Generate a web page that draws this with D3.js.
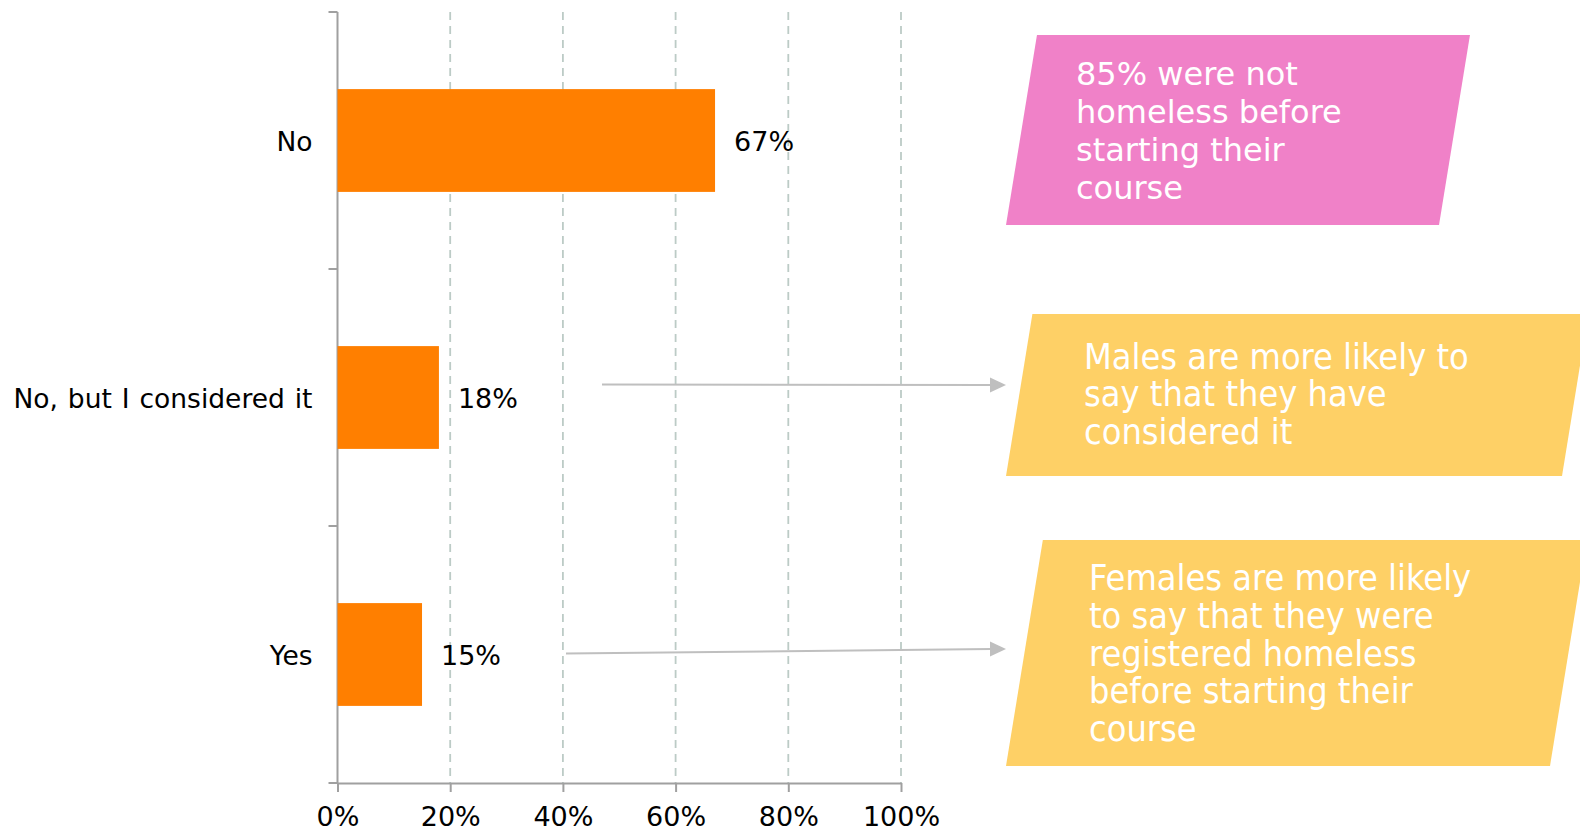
<!DOCTYPE html>
<html>
<head>
<meta charset="utf-8">
<script src="https://cdn.jsdelivr.net/npm/d3@7"></script>
<style>
  body { margin: 0; background: #fff; }
  svg { display: block; font-family: "DejaVu Sans", Verdana, sans-serif; }
</style>
</head>
<body>
<div id="chart"></div>
<script>
// chart data
const categories = ["No", "No, but I considered it", "Yes"];
const values = [67, 18, 15];
const xTicks = [0, 20, 40, 60, 80, 100];

// annotation boxes (text lines) and which category each one points at
const noteLines = [
    ["85% were not", "homeless before", "starting their", "course"],
    ["Males are more likely to", "say that they have", "considered it"],
    ["Females are more likely", "to say that they were", "registered homeless", "before starting their", "course"]
];
const noteColors = ["#f081c8", "#fed066", "#fed066"];
const noteTargets = [null, "No, but I considered it", "Yes"];

const width = 1580, height = 833;
const plotLeft = 337.5, plotRight = 901, plotTop = 12, plotBottom = 783;

const svg = d3.select("#chart").append("svg")
    .attr("width", width)
    .attr("height", height);

// scales
const x = d3.scaleLinear().domain([0, 100]).range([plotLeft, plotRight]);
const y = d3.scaleBand()
    .domain(categories)
    .range([plotTop, plotBottom])
    .paddingInner(0.6)
    .paddingOuter(0.3);

// dashed vertical gridlines
svg.append("g")
    .selectAll("line")
    .data(xTicks.slice(1))
    .enter().append("line")
    .attr("x1", d => x(d)).attr("x2", d => x(d))
    .attr("y1", plotTop).attr("y2", plotBottom)
    .style("stroke", "#bccbc6")
    .style("stroke-width", 1.8)
    .style("stroke-dasharray", "8,6");

// x axis
const xAxis = svg.append("g")
    .attr("transform", "translate(0," + plotBottom + ")")
    .call(d3.axisBottom(x).tickValues(xTicks).tickSize(9).tickSizeOuter(0).tickPadding(15)
        .tickFormat(d => d + "%"));
xAxis.select(".domain").style("stroke", "#a0a0a0").style("stroke-width", 2);
xAxis.selectAll(".tick line").style("stroke", "#a0a0a0").style("stroke-width", 2);
xAxis.selectAll(".tick text")
    .style("font-size", "27px")
    .style("font-family", "DejaVu Sans, Verdana, sans-serif")
    .style("fill", "#000");

// y axis: vertical line with ticks between categories
const step = y.step();
const boundaries = d3.range(categories.length + 1).map(i => plotTop + i * step);
svg.append("line")
    .attr("x1", plotLeft).attr("x2", plotLeft)
    .attr("y1", plotTop).attr("y2", plotBottom + 1)
    .style("stroke", "#a0a0a0")
    .style("stroke-width", 2);
svg.append("g")
    .selectAll("line")
    .data(boundaries)
    .enter().append("line")
    .attr("x1", plotLeft - 9).attr("x2", plotLeft)
    .attr("y1", d => d).attr("y2", d => d)
    .style("stroke", "#a0a0a0")
    .style("stroke-width", 2);

// category labels
svg.append("g")
    .selectAll("text")
    .data(categories)
    .enter().append("text")
    .attr("x", plotLeft - 25)
    .attr("y", d => y(d) + y.bandwidth() / 2)
    .attr("dy", "0.4em")
    .attr("text-anchor", "end")
    .style("font-size", "26.5px")
    .style("word-spacing", "1.5px")
    .style("fill", "#000")
    .text(d => d);

// bars
svg.append("g")
    .selectAll("rect")
    .data(categories)
    .enter().append("rect")
    .attr("x", x(0))
    .attr("y", d => y(d))
    .attr("width", (d, i) => x(values[i]) - x(0))
    .attr("height", y.bandwidth())
    .style("fill", "#ff7f00");

// value labels
svg.append("g")
    .selectAll("text")
    .data(categories)
    .enter().append("text")
    .attr("x", (d, i) => x(values[i]) + 19)
    .attr("y", d => y(d) + y.bandwidth() / 2)
    .attr("dy", "0.4em")
    .style("font-size", "27px")
    .style("fill", "#000")
    .text((d, i) => values[i] + "%");

// annotation boxes (slanted parallelograms)
const boxes = [
    { y0: 35, y1: 225, x0: 1006, x1: 1439, textX: 1076, baseline: 85, size: 32, lh: 38, font: "DejaVu Sans" },
    { y0: 314, y1: 476, x0: 1006, x1: 1562, textX: 1084, baseline: 369, size: 35.8, lh: 37.3, font: "DejaVu Sans Condensed" },
    { y0: 540, y1: 766, x0: 1006, x1: 1550, textX: 1089, baseline: 590, size: 35.8, lh: 37.8, font: "DejaVu Sans Condensed" }
];
const slant = 0.163;

boxes.forEach((b, i) => {
    const dx = (b.y1 - b.y0) * slant;
    const pts = [[b.x0 + dx, b.y0], [b.x1 + dx, b.y0], [b.x1, b.y1], [b.x0, b.y1]];
    svg.append("polygon")
        .attr("points", pts.map(p => p.join(",")).join(" "))
        .style("fill", noteColors[i]);

    const t = svg.append("text")
        .attr("x", b.textX)
        .attr("y", b.baseline)
        .style("font-family", b.font + ", sans-serif")
        .style("font-size", b.size + "px")
        .style("fill", "#fff");
    t.selectAll("tspan")
        .data(noteLines[i])
        .enter().append("tspan")
        .attr("x", b.textX)
        .attr("y", (d, j) => b.baseline + j * b.lh)
        .text(d => d);
});

// arrows from the bars to the notes
const arrowStarts = [null, 602, 566];
const arrowOffsets = [null, -13, -1];
const arrowEndY = [null, 385, 649];
noteTargets.forEach((cat, i) => {
    if (!cat) return;
    const y0 = y(cat) + y.bandwidth() / 2 + arrowOffsets[i];
    const x0 = arrowStarts[i], x1 = 991, y1 = arrowEndY[i];
    svg.append("line")
        .attr("x1", x0).attr("y1", y0)
        .attr("x2", x1).attr("y2", y1)
        .style("stroke", "#bfbfbf")
        .style("stroke-width", 2);
    svg.append("polygon")
        .attr("points", [[x1 - 1, y1 - 7.5], [x1 + 15, y1], [x1 - 1, y1 + 7.5]].map(p => p.join(",")).join(" "))
        .style("fill", "#bfbfbf");
});
</script>
</body>
</html>
